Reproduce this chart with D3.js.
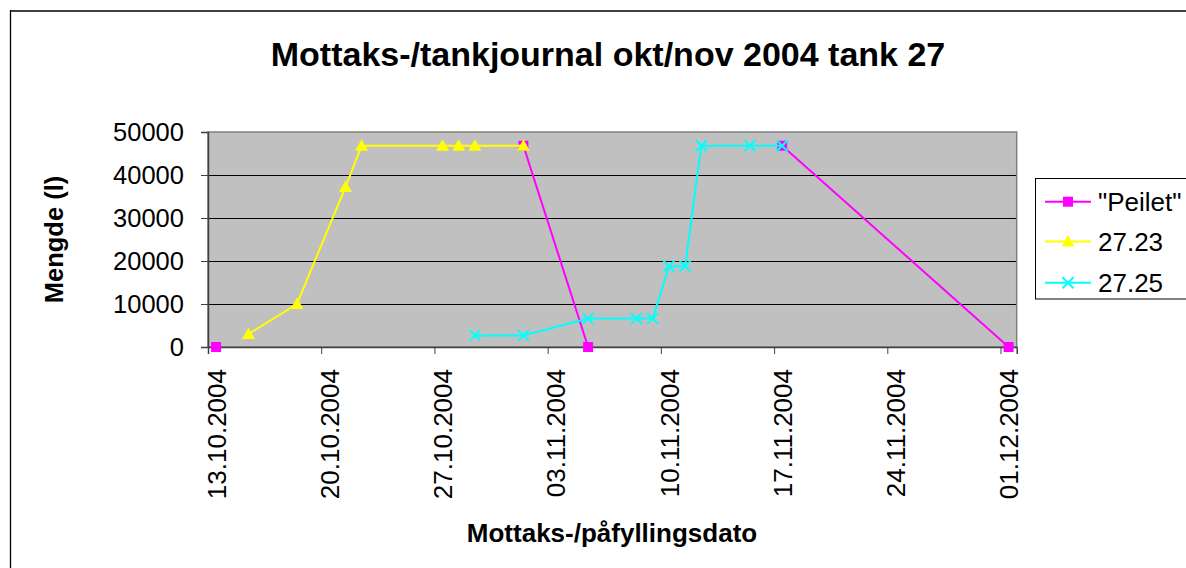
<!DOCTYPE html>
<html>
<head>
<meta charset="utf-8">
<script src="https://cdn.jsdelivr.net/npm/d3@7"></script>
<style>
  html, body { margin: 0; padding: 0; background: #fff; }
  svg { display: block; font-family: "Liberation Sans", Arial, sans-serif; }
</style>
</head>
<body>
<svg id="chart" width="1186" height="568"></svg>
<script>
// ---- data ----
const dates = ["13.10.2004","15.10.2004","18.10.2004","21.10.2004","22.10.2004","27.10.2004",
               "28.10.2004","29.10.2004","01.11.2004","05.11.2004","08.11.2004","09.11.2004",
               "10.11.2004","11.11.2004","12.11.2004","15.11.2004","17.11.2004","01.12.2004"];
const peilet = [0, null, null, null, null, null, null, null, 46800, 0, null, null, null, null, null, null, 46800, 0];
const s2723  = [null, 3000, 10000, 37200, 46800, 46800, 46800, 46800, 46800, null, null, null, null, null, null, null, null, null];
const s2725  = [null, null, null, null, null, null, null, 2700, 2700, 6600, 6600, 6600, 18800, 18800, 46800, 46800, 46800, null];
const seriesNames = ["\"Peilet\"", "27.23", "27.25"];
const tickLabels = ["13.10.2004","20.10.2004","27.10.2004","03.11.2004","10.11.2004","17.11.2004","24.11.2004","01.12.2004"];
const yTicks = [0, 10000, 20000, 30000, 40000, 50000];
const titleText = "Mottaks-/tankjournal okt/nov 2004 tank 27";
const xTitle = "Mottaks-/påfyllingsdato";
const yTitle = "Mengde (l)";

(function () {
// ---- helpers ----
const parse = d3.utcParse("%d.%m.%Y");
const DAY = 864e5;
const svg = d3.select("#chart");

const pL = 208, pR = 1016.7, pT = 132, pB = 347;
const x = d3.scaleUtc()
  .domain([parse("13.10.2004"), new Date(+parse("01.12.2004") + DAY)])
  .range([pL, pR]);
const y = d3.scaleLinear().domain([0, 50000]).range([pB, pT]);
const half = (x(new Date(+parse("13.10.2004") + DAY)) - x(parse("13.10.2004"))) / 2;
const px = d => x(new Date(+parse(d) + DAY / 2));

// frame
svg.append("line").attr("x1", 10).attr("x2", 1186).attr("y1", 11).attr("y2", 11)
  .attr("stroke", "#404040").attr("stroke-width", 2.2);
svg.append("line").attr("x1", 10.5).attr("x2", 10.5).attr("y1", 10).attr("y2", 568)
  .attr("stroke", "#000").attr("stroke-width", 1.3);

// title
svg.append("text").attr("x", 608).attr("y", 66).attr("text-anchor", "middle")
  .attr("font-size", 34).attr("font-weight", "bold").text(titleText);

// plot area
svg.append("rect").attr("x", pL).attr("y", pT).attr("width", pR - pL).attr("height", pB - pT)
  .attr("fill", "#c0c0c0");

// gridlines
svg.append("g").selectAll("line").data(yTicks.filter(v => v > 0 && v < 50000)).join("line")
  .attr("x1", pL).attr("x2", pR).attr("y1", d => Math.round(y(d)) + 0.5).attr("y2", d => Math.round(y(d)) + 0.5)
  .attr("stroke", "#000").attr("stroke-width", 1.2);

svg.append("rect").attr("x", pL).attr("y", pT).attr("width", pR - pL).attr("height", pB - pT)
  .attr("fill", "none").attr("stroke", "#808080").attr("stroke-width", 1.5);

// y axis
const yAxis = svg.append("g").attr("transform", `translate(${pL},0)`)
  .call(d3.axisLeft(y).tickValues(yTicks).tickSize(7).tickPadding(17).tickFormat(d3.format("d")));
yAxis.select(".domain").attr("stroke", "#404040").attr("stroke-width", 1.5);
yAxis.selectAll(".tick line").attr("stroke", "#404040");
yAxis.selectAll("text").attr("font-size", 25.5).attr("fill", "#000")
  .attr("font-family", "Liberation Sans, Arial, sans-serif");

// x axis
const xAxis = svg.append("g").attr("transform", `translate(0,${pB})`)
  .call(d3.axisBottom(x).tickValues(tickLabels.map(parse)).tickSize(7)
    .tickFormat(d3.utcFormat("%d.%m.%Y")));
xAxis.select(".domain").attr("stroke", "#404040").attr("stroke-width", 1.5);
xAxis.selectAll(".tick line").attr("stroke", "#404040");
xAxis.selectAll("text")
  .attr("font-size", 26).attr("fill", "#000").attr("font-family", "Liberation Sans, Arial, sans-serif")
  .attr("x", 0).attr("y", 0).attr("dy", "0.35em")
  .attr("text-anchor", "end")
  .attr("transform", `translate(${half},22) rotate(-90)`);

// axis titles
svg.append("text").attr("x", 612).attr("y", 542).attr("text-anchor", "middle")
  .attr("font-size", 26).attr("font-weight", "bold").text(xTitle);
svg.append("text").attr("transform", `translate(63,${(pT + pB) / 2}) rotate(-90)`)
  .attr("text-anchor", "middle").attr("font-size", 25.5).attr("font-weight", "bold").text(yTitle);

// series
const series = [
  { name: seriesNames[0], values: peilet, color: "#ff00ff", marker: "square" },
  { name: seriesNames[1], values: s2723, color: "#ffff00", marker: "triangle" },
  { name: seriesNames[2], values: s2725, color: "#00ffff", marker: "x" }
];

function drawMarker(g, type, color, cx, cy) {
  if (type === "square") {
    g.append("rect").attr("x", cx - 5).attr("y", cy - 5).attr("width", 10).attr("height", 10).attr("fill", color);
  } else if (type === "triangle") {
    g.append("path").attr("d", `M${cx},${cy - 6.5}L${cx + 6.5},${cy + 5}L${cx - 6.5},${cy + 5}Z`).attr("fill", color);
  } else {
    const r = 5.5;
    g.append("path").attr("d", `M${cx - r},${cy - r}L${cx + r},${cy + r}M${cx - r},${cy + r}L${cx + r},${cy - r}`)
      .attr("stroke", color).attr("stroke-width", 2).attr("fill", "none");
  }
}

const line = d3.line().defined(d => d.v !== null).x(d => px(d.d)).y(d => y(d.v));
series.forEach(s => {
  const pts = dates.map((d, i) => ({ d, v: s.values[i] }));
  const g = svg.append("g");
  g.append("path").datum(pts).attr("d", line).attr("fill", "none")
    .attr("stroke", s.color).attr("stroke-width", 2);
  pts.filter(p => p.v !== null).forEach(p => drawMarker(g, s.marker, s.color, px(p.d), y(p.v)));
});

// legend
const lg = svg.append("g");
lg.append("rect").attr("x", 1035.5).attr("y", 178.5).attr("width", 170).attr("height", 120.5)
  .attr("fill", "#fff").attr("stroke", "#000").attr("stroke-width", 1);
const rowY = [201.7, 241.5, 282.7];
series.forEach((s, i) => {
  lg.append("line").attr("x1", 1045).attr("x2", 1091).attr("y1", rowY[i]).attr("y2", rowY[i])
    .attr("stroke", s.color).attr("stroke-width", 2);
  drawMarker(lg, s.marker, s.color, 1068, rowY[i]);
  lg.append("text").attr("x", 1098).attr("y", rowY[i]).attr("dy", "0.35em")
    .attr("font-size", 26).text(s.name);
});
})();
</script>
</body>
</html>
